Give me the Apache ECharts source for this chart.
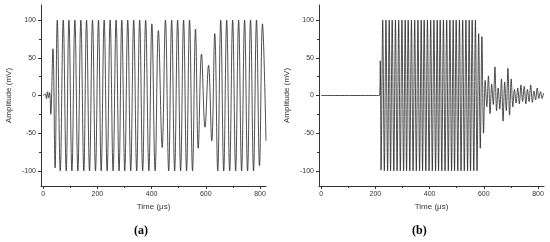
<!DOCTYPE html>
<html>
<head>
<meta charset="utf-8">
<script src="https://cdn.jsdelivr.net/npm/echarts@6/dist/echarts.min.js"></script>
<style>
  html, body { margin: 0; padding: 0; background: #fff; }
  #chart { width: 550px; height: 242px; }
</style>
</head>
<body>
<div id="chart"></div>
<script>
// axis ticks
const timeTicks = [0, 200, 400, 600, 800];
const timeMinor = [100, 300, 500, 700];
const ampTicks = [-100, -50, 0, 50, 100];
const ampMinor = [-75, -25, 25, 75];

// (a) signal, read as turning points (time in us, amplitude in mV)
const timeA = [0, 8, 12, 16, 20, 24, 28, 36, 44, 52, 63, 74, 85, 95, 106, 117, 128, 139, 150, 160,
  171, 182, 193, 204, 214, 225, 236, 247, 258, 269, 280, 290, 301, 312, 323, 334, 345, 356, 367, 378,
  390, 401, 413, 425, 439, 451, 463, 474, 485, 496, 507, 518, 529, 540, 551, 562, 572, 584, 597, 610,
  622, 633, 644, 655, 666, 677, 688, 699, 710, 721, 732, 743, 754, 765, 776, 787, 798, 809, 822];
const ampA = [0, 2, -4, 5, -3, 4, -25, 62, -96, 100, -100, 100, -100, 100, -100, 100, -100, 100, -100, 100,
  -100, 100, -100, 100, -100, 100, -100, 100, -100, 100, -100, 100, -100, 100, -100, 100, -100, 100, -100, 100,
  -100, 95, -100, 86, -69, 100, -100, 100, -100, 100, -100, 100, -100, 100, -100, 88, -70, 55, -42, 40,
  -60, 82, -100, 100, -100, 100, -100, 100, -100, 100, -100, 100, -100, 100, -100, 100, -93, 95, -60];

// (b) signal
const timeB = [0, 215, 218, 221, 227, 233, 239, 245, 251, 256, 262, 268, 274, 280, 286, 292, 298, 304,
  310, 315, 321, 327, 333, 339, 345, 351, 357, 363, 369, 374, 380, 386, 392, 398, 404, 410, 416, 422,
  428, 433, 439, 445, 451, 457, 463, 469, 475, 481, 487, 492, 498, 504, 510, 516, 522, 528, 534, 540,
  546, 551, 557, 563, 569, 575, 581, 587, 593, 599, 605, 611, 617, 623, 629, 635, 641, 647, 653, 659,
  665, 671, 677, 683, 689, 695, 701, 707, 713, 719, 725, 731, 737, 743, 749, 755, 761, 767, 773, 779,
  785, 791, 797, 803, 809, 815, 820];
const ampB = [0, 0, 46, -99, 100, -100, 100, -100, 100, -100, 100, -100, 100, -100, 100, -100, 100, -100,
  100, -100, 100, -100, 100, -100, 100, -100, 100, -100, 100, -100, 100, -100, 100, -100, 100, -100, 100, -100,
  100, -100, 100, -100, 100, -100, 100, -100, 100, -100, 100, -100, 100, -100, 100, -100, 100, -100, 100, -100,
  100, -100, 100, -100, 100, -100, 82, -70, 78, -50, 20, -15, 26, -24, 15, -12, 38, -20, 10, -18,
  22, -34, 18, -20, 36, -26, 22, -15, 8, -10, 10, -11, 14, -8, 12, -11, 8, -8, 14, -9,
  6, -6, 10, -4, 5, -4, 3];

const font = 'Liberation Sans';
const ink = '#333';

function pairs(t, v) {
  return t.map((x, i) => [x, v[i]]);
}

function xAxes(gi) {
  return [{
    type: 'value', gridIndex: gi, min: -8, max: 822, position: 'bottom',
    name: 'Time (\u03bcs)', nameLocation: 'middle', nameGap: 17,
    nameTextStyle: {fontFamily: font, fontSize: 8, color: ink},
    axisLine: {onZero: false, lineStyle: {color: ink, width: 1}},
    axisTick: {customValues: timeTicks, length: 3, lineStyle: {color: ink}},
    axisLabel: {customValues: timeTicks, fontFamily: font, fontSize: 7, color: ink, margin: 5},
    splitLine: {show: false}
  }, {
    type: 'value', gridIndex: gi, min: -8, max: 822, position: 'bottom',
    axisLine: {show: false, onZero: false},
    axisTick: {customValues: timeMinor, length: 2, lineStyle: {color: ink}},
    axisLabel: {show: false},
    splitLine: {show: false}
  }];
}

function yAxes(gi) {
  return [{
    type: 'value', gridIndex: gi, min: -120, max: 120, position: 'left',
    name: 'Amplitude (mV)', nameLocation: 'middle', nameGap: 28,
    nameTextStyle: {fontFamily: font, fontSize: 8, color: ink},
    axisLine: {show: true, onZero: false, lineStyle: {color: ink, width: 1}},
    axisTick: {show: true, customValues: ampTicks, length: 3, lineStyle: {color: ink}},
    axisLabel: {customValues: ampTicks, fontFamily: font, fontSize: 7, color: ink, margin: 5},
    splitLine: {show: false}
  }, {
    type: 'value', gridIndex: gi, min: -120, max: 120, position: 'left',
    axisLine: {show: false, onZero: false},
    axisTick: {show: true, customValues: ampMinor, length: 2, lineStyle: {color: ink}},
    axisLabel: {show: false},
    splitLine: {show: false}
  }];
}

const chart = echarts.init(document.getElementById('chart'));
chart.setOption({
  animation: false,
  backgroundColor: '#fff',
  title: [
    {text: '(a)', left: 129, top: 220, textStyle: {fontFamily: 'Liberation Serif', fontWeight: 'bold', fontSize: 12, color: '#000'}},
    {text: '(b)', left: 407, top: 220, textStyle: {fontFamily: 'Liberation Serif', fontWeight: 'bold', fontSize: 12, color: '#000'}}
  ],
  grid: [
    {left: 41, top: 5, width: 225, height: 181},
    {left: 319, top: 5, width: 225, height: 181}
  ],
  xAxis: xAxes(0).concat(xAxes(1)),
  yAxis: yAxes(0).concat(yAxes(1)),
  series: [{
    type: 'line', xAxisIndex: 0, yAxisIndex: 0,
    data: pairs(timeA, ampA),
    showSymbol: false, smooth: 0.4,
    lineStyle: {color: '#222', width: 0.8}
  }, {
    type: 'line', xAxisIndex: 2, yAxisIndex: 2,
    data: pairs(timeB, ampB),
    showSymbol: false, smooth: 0.3,
    lineStyle: {color: '#222', width: 0.8}
  }]
});
</script>
</body>
</html>
